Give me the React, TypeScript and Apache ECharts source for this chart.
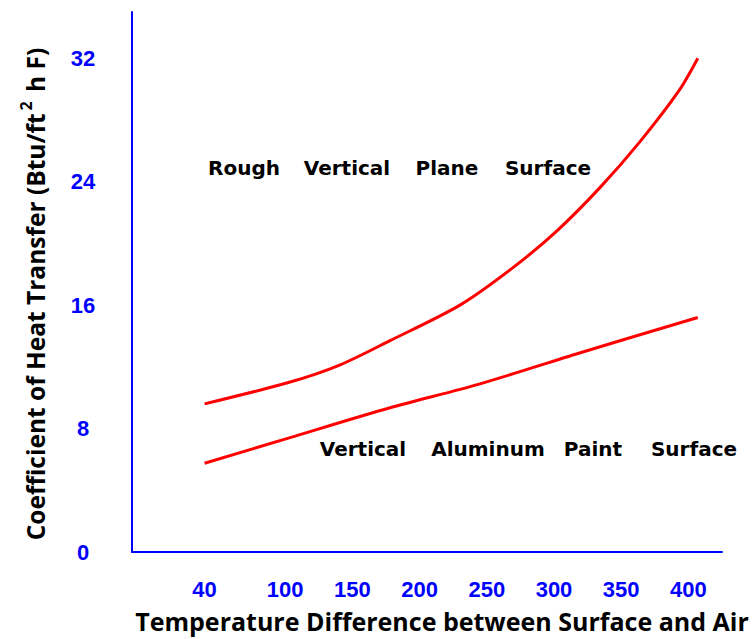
import React, { useEffect, useRef } from 'react';
import * as echarts from 'echarts';

const xTickLabels = [40, 100, 150, 200, 250, 300, 350, 400];
const yTickLabels = [0, 8, 16, 24, 32];

const roughTemp = [40, 103, 140, 178, 230, 269, 302, 334, 364, 393, 407];
const roughCoef = [9.6, 11.0, 12.1, 13.7, 16.0, 18.4, 20.8, 23.6, 26.6, 29.9, 32.0];

const aluminumTemp = [40, 103, 178, 245, 319, 407];
const aluminumCoef = [5.75, 7.4, 9.35, 10.9, 12.9, 15.2];

const upperWords = ['Rough', 'Vertical', 'Plane', 'Surface'];
const lowerWords = ['Vertical', 'Aluminum', 'Paint', 'Surface'];

const xTitle = 'Temperature Difference between Surface and Air';
const yTitleMain = 'Coefficient of Heat Transfer (Btu/ft';
const yTitleSup = '2';
const yTitleEnd = ' h F)';

const tickFont = '"Liberation Sans Narrow", "Liberation Sans", Arial, sans-serif';
const wordFont = '"DejaVu Sans", sans-serif';
const titleFont = '"Open Sans", sans-serif';

export default function App() {
  const ref = useRef<HTMLDivElement>(null);
  useEffect(() => {
    if (!ref.current) return;
    const chart = echarts.init(ref.current, undefined, { renderer: 'svg' });
    const upperX = [244, 347, 447, 548];
    const lowerX = [363, 488, 593, 694];
    const wordGraphics: any[] = [];
    upperWords.forEach((w, i) =>
      wordGraphics.push({
        type: 'text',
        x: upperX[i],
        y: 168,
        style: { text: w, font: `bold 20px ${wordFont}`, fill: '#000', align: 'center', verticalAlign: 'middle' },
      })
    );
    lowerWords.forEach((w, i) =>
      wordGraphics.push({
        type: 'text',
        x: lowerX[i],
        y: 449,
        style: { text: w, font: `bold 20px ${wordFont}`, fill: '#000', align: 'center', verticalAlign: 'middle' },
      })
    );
    chart.setOption({
      animation: false,
      backgroundColor: '#ffffff',
      grid: { left: 132, right: 30, top: 12, bottom: 87, containLabel: false },
      xAxis: {
        type: 'value',
        min: -14,
        max: 425,
        axisLine: { show: true, onZero: false, lineStyle: { color: '#0000ff', width: 2 } },
        axisTick: { show: false },
        splitLine: { show: false },
        axisLabel: {
          customValues: xTickLabels,
          formatter: (v: number) => (xTickLabels.includes(v) ? String(v) : ''),
          color: '#0000ff',
          fontWeight: 'bold',
          fontSize: 22,
          fontFamily: tickFont,
          margin: 26,
          lineHeight: 22,
        },
      },
      yAxis: {
        type: 'value',
        min: 0,
        max: 35,
        interval: 8,
        axisLine: { show: true, onZero: false, lineStyle: { color: '#0000ff', width: 2 } },
        axisTick: { show: false },
        splitLine: { show: false },
        axisLabel: {
          customValues: yTickLabels,
          formatter: (v: number) => (yTickLabels.includes(v) ? String(v) : ''),
          color: '#0000ff',
          fontWeight: 'bold',
          fontSize: 22,
          fontFamily: tickFont,
          align: 'center',
          margin: 49,
        },
      },
      series: [
        {
          type: 'line',
          name: 'Rough Vertical Plane Surface',
          data: roughTemp.map((t, i) => [t, roughCoef[i]]),
          smooth: 0.3,
          symbol: 'none',
          lineStyle: { color: '#ff0000', width: 3 },
        },
        {
          type: 'line',
          name: 'Vertical Aluminum Paint Surface',
          data: aluminumTemp.map((t, i) => [t, aluminumCoef[i]]),
          smooth: 0.3,
          symbol: 'none',
          lineStyle: { color: '#ff0000', width: 3 },
        },
      ],
      graphic: [
        ...wordGraphics,
        {
          type: 'text',
          x: 442,
          y: 621,
          style: { text: xTitle, font: `bold 25px ${titleFont}`, fill: '#000', align: 'center', verticalAlign: 'middle' },
        },
        {
          type: 'text',
          x: 33,
          y: 294,
          rotation: Math.PI / 2,
          style: {
            text: `{a|${yTitleMain}}{s|${yTitleSup}}{a|${yTitleEnd}}`,
            align: 'center',
            verticalAlign: 'middle',
            fill: '#000',
            rich: {
              a: { font: `bold 24.5px ${titleFont}`, fill: '#000', lineHeight: 30, verticalAlign: 'bottom' },
              s: { font: `bold 16px ${titleFont}`, fill: '#000', lineHeight: 30, verticalAlign: 'top', padding: [0, 3, 0, 3] },
            },
          },
        },
      ],
    });
    return () => chart.dispose();
  }, []);
  return (
    <div
      ref={ref}
      style={{ position: 'absolute', left: 0, top: 0, width: 752, height: 639, background: '#fff' }}
    />
  );
}
